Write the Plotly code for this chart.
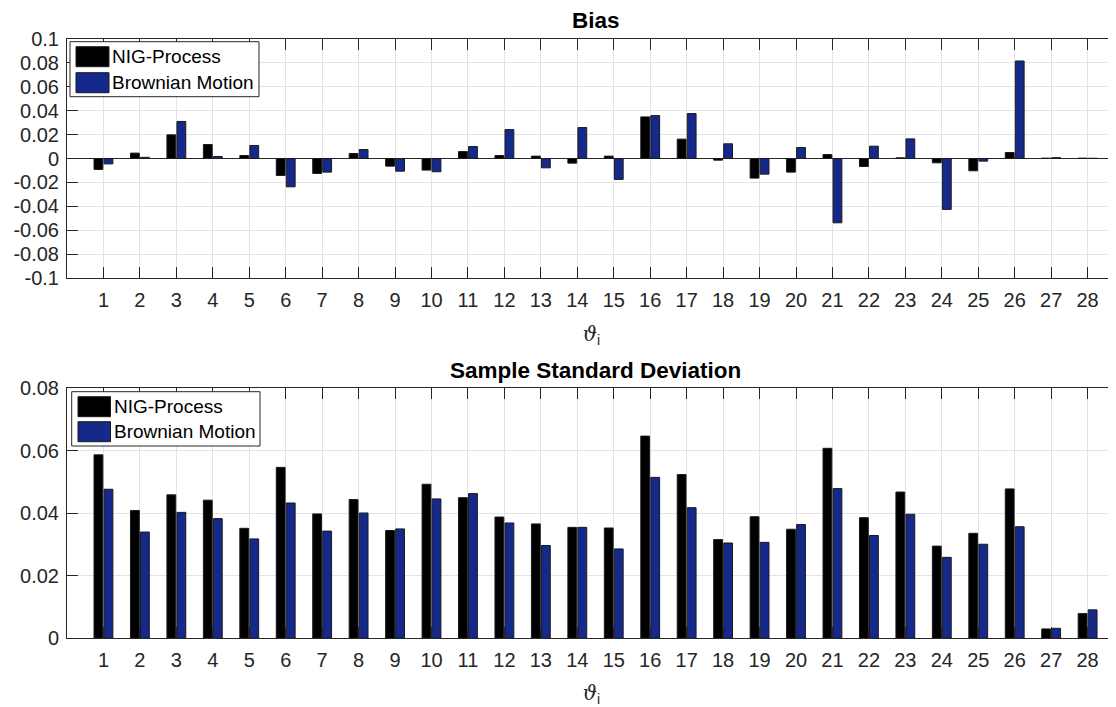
import plotly.graph_objects as go

# ---------------- data ----------------
theta = list(range(1, 29))
series_names = ["NIG-Process", "Brownian Motion"]

bias_nig = [-0.0092, 0.0045, 0.0198, 0.0117, 0.0025, -0.0142, -0.0125, 0.0042, -0.0064, -0.0097,
            0.0058, 0.0025, 0.0020, -0.0039, 0.0020, 0.0348, 0.0162, -0.0014, -0.0164, -0.0114,
            0.0033, -0.0067, 0.0006, -0.0036, -0.0103, 0.0050, 0.0003, 0.0003]
bias_bm = [-0.0045, 0.0010, 0.0310, 0.0017, 0.0109, -0.0237, -0.0114, 0.0075, -0.0106, -0.0111,
           0.0100, 0.0242, -0.0078, 0.0259, -0.0175, 0.0359, 0.0376, 0.0123, -0.0131, 0.0092,
           -0.0538, 0.0103, 0.0164, -0.0426, -0.0022, 0.0816, 0.0007, 0.0002]

std_nig = [0.0587, 0.0409, 0.0459, 0.0442, 0.0352, 0.0547, 0.0398, 0.0444, 0.0345, 0.0493,
           0.0450, 0.0388, 0.0366, 0.0355, 0.0353, 0.0647, 0.0524, 0.0316, 0.0389, 0.0349,
           0.0608, 0.0386, 0.0468, 0.0295, 0.0336, 0.0478, 0.0030, 0.0079]
std_bm = [0.0477, 0.0340, 0.0403, 0.0383, 0.0318, 0.0433, 0.0343, 0.0401, 0.0350, 0.0446,
          0.0463, 0.0369, 0.0297, 0.0355, 0.0286, 0.0515, 0.0418, 0.0305, 0.0307, 0.0364,
          0.0479, 0.0329, 0.0397, 0.0259, 0.0301, 0.0357, 0.0032, 0.0091]

bias_tickvals = [-0.1, -0.08, -0.06, -0.04, -0.02, 0, 0.02, 0.04, 0.06, 0.08, 0.1]
bias_ticktext = ["-0.1", "-0.08", "-0.06", "-0.04", "-0.02", "0", "0.02", "0.04", "0.06", "0.08", "0.1"]
std_tickvals = [0, 0.02, 0.04, 0.06, 0.08]
std_ticktext = ["0", "0.02", "0.04", "0.06", "0.08"]

titles = ["Bias", "Sample Standard Deviation"]
xlabel = "<i>ϑ</i><sub><span style='font-family:Liberation Sans'>i</span></sub>"

# ---------------- style / layout ----------------
OFF = 8                      # page body margin in the browser
W, H = 1116 - OFF, 707 - OFF
colors = ["#000000", "#15298A"]
edge = "#1a1a1a"
axis_col = "#262626"
grid_col = "#e3e3e3"
font_fam = "Liberation Sans, Arial, sans-serif"

def px(x):                   # reference pixel x -> paper x
    return (x - OFF) / W

def py(y):                   # reference pixel y -> paper y
    return 1 - (y - OFF) / H

plot_left = 67
unit_px = 36.45
xr = [0, (1116 - plot_left) / unit_px]

fig = go.Figure()
for name, vals, col in zip(series_names, [bias_nig, bias_bm], colors):
    fig.add_trace(go.Bar(x=theta, y=vals, name=name, showlegend=False,
                         marker=dict(color=col, line=dict(color=edge, width=1)), xaxis="x", yaxis="y"))
for name, vals, col in zip(series_names, [std_nig, std_bm], colors):
    fig.add_trace(go.Bar(x=theta, y=vals, name=name, showlegend=False,
                         marker=dict(color=col, line=dict(color=edge, width=1)), xaxis="x2", yaxis="y2"))

xaxis_common = dict(
    range=xr, tickmode="array", tickvals=theta, ticktext=[str(t) for t in theta],
    showgrid=True, gridcolor=grid_col, gridwidth=1,
    showline=True, linecolor=axis_col, linewidth=1, mirror="ticks",
    ticks="inside", ticklen=11, tickcolor=axis_col, tickwidth=1,
    tickfont=dict(family=font_fam, size=20, color=axis_col),
    zeroline=False, fixedrange=True, automargin=False, ticklabelstandoff=4,
    domain=[px(plot_left), 1],
    title=dict(text=xlabel, font=dict(family="DejaVu Serif, serif", size=20, color=axis_col), standoff=16),
)
yaxis_common = dict(
    showgrid=True, gridcolor=grid_col, gridwidth=1,
    showline=True, linecolor=axis_col, linewidth=1, mirror=False,
    ticks="inside", ticklen=11, tickcolor=axis_col, tickwidth=1,
    tickfont=dict(family=font_fam, size=20, color=axis_col),
    tickmode="array", fixedrange=True, automargin=False, ticklabelstandoff=3,
)

# custom legends (large swatches as in the reference)
shapes, annotations = [], []
legend_boxes = [
    dict(x0=70, y0=41.7, x1=259, y1=96.7, sw_x0=76, sw_x1=109, sw_y=[46.7, 72.7], text_x=110),
    dict(x0=71.7, y0=391.7, x1=260, y1=446, sw_x0=78, sw_x1=110.5, sw_y=[396.7, 421.7], text_x=112),
]
for lb in legend_boxes:
    shapes.append(dict(type="rect", xref="paper", yref="paper", x0=px(lb["x0"]), x1=px(lb["x1"]),
                       y0=py(lb["y1"]), y1=py(lb["y0"]), fillcolor="white",
                       line=dict(color=axis_col, width=1), layer="above"))
    for name, col, sy in zip(series_names, colors, lb["sw_y"]):
        shapes.append(dict(type="rect", xref="paper", yref="paper", x0=px(lb["sw_x0"]), x1=px(lb["sw_x1"]),
                           y0=py(sy + 20), y1=py(sy), fillcolor=col,
                           line=dict(color=edge, width=1), layer="above"))
        annotations.append(dict(text=name, xref="paper", yref="paper", x=px(lb["text_x"]), y=py(sy + 10),
                                xanchor="left", yanchor="middle", showarrow=False,
                                font=dict(family=font_fam, size=19, color="#000000")))

annotations += [
    dict(text="<b>" + titles[0] + "</b>", x=14.5, xref="x", y=py(21), yref="paper",
         showarrow=False, font=dict(family=font_fam, size=22.5, color="#000000"),
         xanchor="center", yanchor="middle"),
    dict(text="<b>" + titles[1] + "</b>", x=14.5, xref="x2", y=py(371), yref="paper",
         showarrow=False, font=dict(family=font_fam, size=22.5, color="#000000"),
         xanchor="center", yanchor="middle"),
]

fig.update_layout(
    template="none",
    width=W, height=H,
    margin=dict(l=0, r=0, t=0, b=0, pad=0),
    paper_bgcolor="white", plot_bgcolor="white",
    barmode="group", bargap=0.45, bargroupgap=0.12,
    font=dict(family=font_fam, color=axis_col),
    showlegend=False,
    xaxis=dict(xaxis_common, anchor="y"),
    yaxis=dict(yaxis_common, anchor="x", range=[-0.1, 0.1], tickvals=bias_tickvals, ticktext=bias_ticktext,
               zeroline=True, zerolinecolor=axis_col, zerolinewidth=1,
               domain=[py(278), py(39)]),
    xaxis2=dict(xaxis_common, anchor="y2"),
    yaxis2=dict(yaxis_common, anchor="x2", range=[0, 0.08], tickvals=std_tickvals, ticktext=std_ticktext,
                zeroline=False, domain=[py(638.3), py(388.3)]),
    shapes=shapes,
    annotations=annotations,
)

fig.write_html("out.html")
